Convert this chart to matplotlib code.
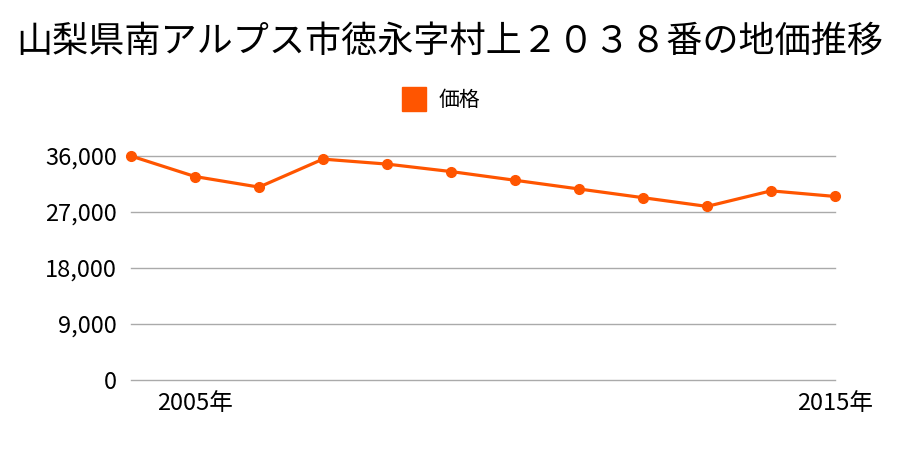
import matplotlib
matplotlib.use('Agg')
import matplotlib.pyplot as plt
from matplotlib.lines import Line2D

plt.rcParams['font.family'] = ['Noto Sans CJK JP', 'DejaVu Sans']

years = [2004, 2005, 2006, 2007, 2008, 2009, 2010, 2011, 2012, 2013, 2014, 2015]
prices = [36000, 32700, 31000, 35500, 34700, 33500, 32100, 30700, 29300, 27900, 30400, 29500]
yticks = [0, 9000, 18000, 27000, 36000]
xticks = [2005, 2015]
xticklabels = ['2005年', '2015年']

line_color = '#ff5500'

fig = plt.figure(figsize=(9, 4.5), dpi=100)
ax = fig.add_axes([131 / 900, 1 - 380 / 450, (835 - 131) / 900, (380 - 156) / 450])

ax.plot(years, prices, color=line_color, linewidth=2.3, marker='o', markersize=7,
        clip_on=False, zorder=3)

ax.set_xlim(2004, 2015)
ax.set_ylim(0, 36000)
ax.set_yticks(yticks)
ax.set_yticklabels([f'{v:,}' for v in yticks], fontsize=17)
ax.set_xticks(xticks)
ax.set_xticklabels(xticklabels, fontsize=17)
ax.grid(axis='y', color='#aaaaaa', linewidth=1)
for gl in ax.get_ygridlines():
    gl.set_clip_on(False)
ax.set_axisbelow(True)
for s in ax.spines.values():
    s.set_visible(False)
ax.tick_params(axis='both', length=0)
ax.tick_params(axis='y', pad=10)
ax.tick_params(axis='x', pad=9)

fig.text(0.5, 1 - 42 / 450, '山梨県南アルプス市徳永字村上２０３８番の地価推移',
         ha='center', va='center', fontsize=26)

handle = Line2D([], [], color=line_color, marker='s', linestyle='none', markersize=17)
fig.legend([handle], ['価格'], loc='center', bbox_to_anchor=(0.485, 1 - 100 / 450),
           frameon=False, fontsize=15, handletextpad=0.2)

fig.savefig('out.png', dpi=100)
